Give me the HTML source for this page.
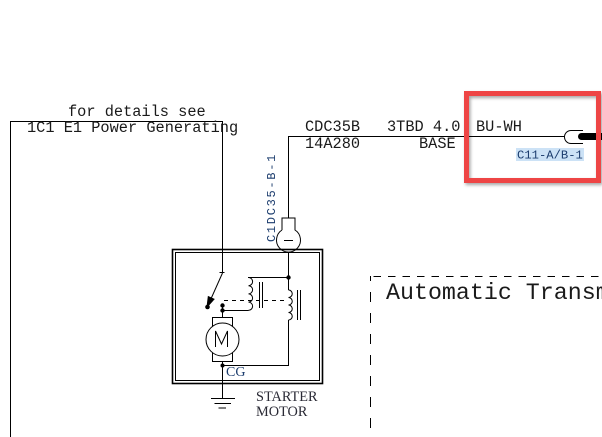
<!DOCTYPE html>
<html>
<head>
<meta charset="utf-8">
<style>
  html, body { margin:0; padding:0; background:#fff; }
  body { width:602px; height:437px; overflow:hidden; }
  svg { display:block; }
  .mono { font-family: "Liberation Mono", monospace; }
  .serif { font-family: "Liberation Serif", serif; }
</style>
</head>
<body>
<svg width="602" height="437" viewBox="0 0 602 437" xmlns="http://www.w3.org/2000/svg">
  <defs>
    <filter id="sh" x="-10%" y="-10%" width="130%" height="130%">
      <feDropShadow dx="1.5" dy="2" stdDeviation="1.5" flood-color="#000" flood-opacity="0.35"/>
    </filter>
  </defs>
  <rect x="0" y="0" width="602" height="437" fill="#fff"/>

  <!-- left reference box -->
  <g stroke="#000" stroke-width="1" fill="none">
    <line x1="10.5" y1="121" x2="10.5" y2="437"/>
    <line x1="10" y1="121.5" x2="223" y2="121.5"/>
    <line x1="222.5" y1="121" x2="222.5" y2="273"/>
  </g>
  <text class="mono" x="68" y="116" font-size="15.3" fill="#1a1a1a">for details see</text>
  <text class="mono" x="27" y="132" font-size="15.3" fill="#1a1a1a">1C1 E1 Power Generating</text>

  <!-- main wire -->
  <g stroke="#000" stroke-width="1" fill="none">
    <line x1="288" y1="136.5" x2="580" y2="136.5"/>
    <line x1="288.5" y1="136" x2="288.5" y2="218"/>
  </g>
  <text class="mono" x="305" y="131" font-size="15.3" fill="#1a1a1a">CDC35B</text>
  <text class="mono" x="305" y="148" font-size="15.3" fill="#1a1a1a">14A280</text>
  <text class="mono" x="387" y="131" font-size="15.3" fill="#1a1a1a">3TBD 4.0</text>
  <text class="mono" x="419" y="148" font-size="15.3" fill="#1a1a1a">BASE</text>
  <text class="mono" x="476" y="131" font-size="15.3" fill="#1a1a1a">BU-WH</text>

  <!-- connector C1DC35-B-1 -->
  <path d="M282,230 L282,218 L295,218 L295,230 A12,12 0 1 1 282,230" stroke="#000" stroke-width="1" fill="#fff"/>
  <line x1="284" y1="240.5" x2="293" y2="240.5" stroke="#000" stroke-width="1"/>
  <text class="mono" transform="translate(275,242) rotate(-90)" font-size="12" letter-spacing="1.7" fill="#1c3d6e">C1DC35-B-1</text>

  <!-- starter motor box -->
  <rect x="172.5" y="249.5" width="150" height="134" stroke="#000" stroke-width="1.6" fill="none"/>
  <rect x="175.5" y="252.5" width="144" height="128" stroke="#000" stroke-width="1" fill="none"/>

  <g stroke="#000" stroke-width="1" fill="none">
    <!-- wire from connector down -->
    <line x1="288.5" y1="252" x2="288.5" y2="290"/>
    <!-- coil1 top link -->
    <line x1="248" y1="277.5" x2="288.5" y2="277.5"/>
    <!-- coil1 -->
    <path d="M248.5,277.5 a4.1,4.1 0 0 1 0,8.2 a4.1,4.1 0 0 1 0,8.2 a4.1,4.1 0 0 1 0,8.2 a4.1,4.1 0 0 1 0,8.2"/>
    <line x1="259.5" y1="282" x2="259.5" y2="308"/>
    <line x1="262.5" y1="282" x2="262.5" y2="308"/>
    <!-- coil1 bottom to motor -->
    <line x1="222" y1="310.5" x2="248.5" y2="310.5"/>
    <!-- coil2 -->
    <path d="M288.5,290 a3.75,3.75 0 0 1 0,7.5 a3.75,3.75 0 0 1 0,7.5 a3.75,3.75 0 0 1 0,7.5 a3.75,3.75 0 0 1 0,7.5"/>
    <line x1="297.5" y1="290" x2="297.5" y2="320"/>
    <line x1="300.5" y1="290" x2="300.5" y2="320"/>
    <line x1="288.5" y1="320" x2="288.5" y2="365.5"/>
    <line x1="222" y1="365.5" x2="289" y2="365.5"/>
    <!-- dashed mechanical link -->
    <line x1="224" y1="300.5" x2="284" y2="300.5" stroke-dasharray="4 4"/>
    <!-- switch -->
    <line x1="219.5" y1="272.5" x2="224.5" y2="272.5"/>
    <line x1="222.5" y1="273" x2="210" y2="301"/>
    <!-- motor feed -->
    <line x1="222.5" y1="305" x2="222.5" y2="317"/>
    <line x1="222.5" y1="362" x2="222.5" y2="398"/>
    <!-- ground -->
    <line x1="211" y1="398.5" x2="235" y2="398.5"/>
    <line x1="214.5" y1="403.5" x2="231" y2="403.5"/>
    <line x1="218.5" y1="408" x2="226" y2="408"/>
  </g>
  <!-- switch arrowhead + dots -->
  <polygon points="207,307 214,299.2 208.3,296.6" fill="#000" stroke="#000" stroke-width="1"/>
  <circle cx="207.5" cy="307" r="2.3" fill="#000"/>
  <circle cx="288.5" cy="277.5" r="2.2" fill="#000"/>
  <circle cx="222.5" cy="305.5" r="2.2" fill="#000"/>
  <circle cx="222.5" cy="310.5" r="2.2" fill="#000"/>
  <circle cx="222.5" cy="365.5" r="2" fill="#000"/>

  <!-- motor -->
  <rect x="212.5" y="317.5" width="20" height="44" stroke="#000" stroke-width="1" fill="#fff"/>
  <circle cx="222.5" cy="339.5" r="16.5" stroke="#000" stroke-width="1" fill="#fff"/>
  <path d="M215.5,347 L215.5,331 L221.5,344 L227.5,331 L227.5,347" stroke="#000" stroke-width="1" fill="none"/>

  <text class="serif" x="226" y="376" font-size="14" fill="#1c3d6e">CG</text>
  <text class="serif" x="256" y="401" font-size="14.3" fill="#2a2a35">STARTER</text>
  <text class="serif" x="256" y="416" font-size="14.3" fill="#2a2a35">MOTOR</text>

  <!-- connector C11 -->
  <path d="M583,130.5 L571,130.5 A6.5,6.5 0 0 0 571,143.5 L583,143.5" stroke="#000" stroke-width="1" fill="#fff"/>
  <line x1="581.5" y1="136.5" x2="602" y2="136.5" stroke="#000" stroke-width="7" stroke-linecap="round"/>
  <rect x="516" y="148" width="68" height="13" fill="#cce2f6"/>
  <text class="mono" x="517" y="158.5" font-size="12.2" fill="#1c3d6e">C11-A/B-1</text>

  <!-- red highlight -->
  <rect x="466.5" y="93.5" width="132" height="87" stroke="#ee4545" stroke-width="5" fill="none" filter="url(#sh)"/>

  <!-- dashed region -->
  <g stroke="#000" stroke-width="1" fill="none">
    <line x1="370" y1="276.5" x2="602" y2="276.5" stroke-dasharray="7.5 7" stroke-dashoffset="11"/>
    <line x1="370.5" y1="276" x2="370.5" y2="437" stroke-dasharray="10 11" stroke-dashoffset="5"/>
  </g>
  <text class="mono" x="386" y="299" font-size="23.3" fill="#1a1a1a">Automatic Transmission</text>
</svg>
</body>
</html>
